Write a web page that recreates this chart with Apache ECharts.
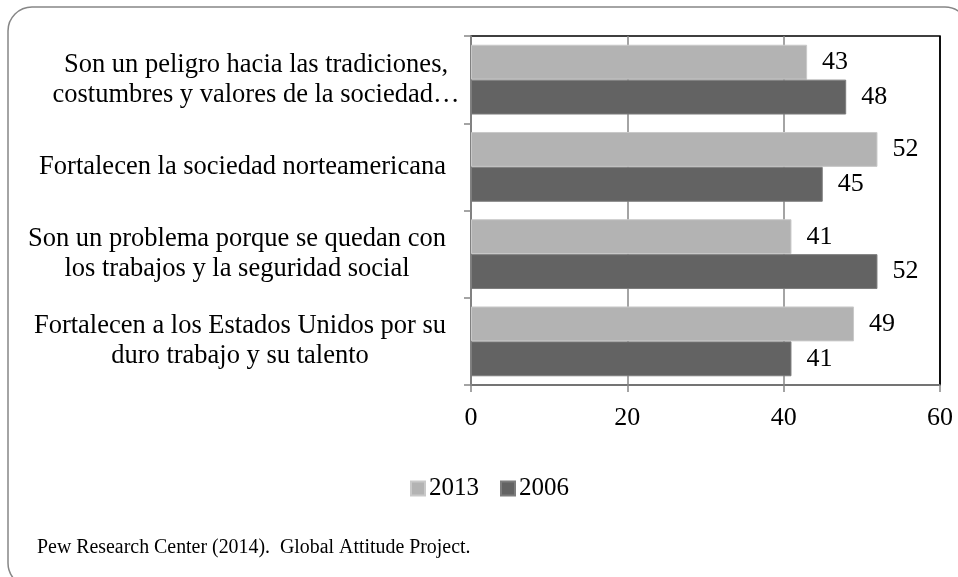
<!DOCTYPE html>
<html>
<head>
<meta charset="utf-8">
<script src="https://cdn.jsdelivr.net/npm/echarts@6/dist/echarts.min.js"></script>
<style>
  html, body { margin: 0; padding: 0; background: #fff; }
  #chart { width: 958px; height: 577px; }
</style>
</head>
<body>
<div id="chart"></div>
<script>
// Opinions about immigrants in the US, share of respondents (%)
const categories = [
  'Son un peligro hacia las tradiciones,\ncostumbres y valores de la sociedad…',
  'Fortalecen la sociedad norteamericana',
  'Son un problema porque se quedan con\nlos trabajos y la seguridad social',
  'Fortalecen a los Estados Unidos por su\nduro trabajo y su talento'
];
const seriesNames = ['2013', '2006'];
const values2013 = [43, 52, 41, 49];
const values2006 = [48, 45, 52, 41];
const xTicks = [0, 20, 40, 60];
const sourceNote = 'Pew Research Center (2014).  Global Attitude Project.';

const FONT = '"Liberation Serif", "Times New Roman", serif';
const LIGHT = '#b3b3b3';
const DARK = '#636363';
const AXIS_GREY = '#868686';
const FS = 26;
const CAT_FS = 26.5;

// each label block is centred on its own lines, right edge next to the axis
const labelBlockWidths = [382, 409, 420, 414];

const chart = echarts.init(document.getElementById('chart'), null, { renderer: 'canvas' });

chart.setOption({
  animation: false,
  backgroundColor: '#fff',
  textStyle: { fontFamily: FONT },
  grid: {
    left: 471, right: 18, top: 36, bottom: 192,
    show: true, borderColor: '#000', borderWidth: 1.5,
    backgroundColor: 'transparent',
    containLabel: false
  },
  legend: {
    data: seriesNames,
    left: 410, top: 476, padding: 0,
    itemWidth: 14, itemHeight: 14, itemGap: 21,
    icon: 'rect',
    textStyle: { fontFamily: FONT, fontSize: 25, color: '#000', padding: [0, 0, 0, -1] }
  },
  xAxis: {
    type: 'value',
    min: xTicks[0], max: xTicks[xTicks.length - 1], interval: xTicks[1] - xTicks[0],
    axisLine: { show: true, lineStyle: { color: AXIS_GREY, width: 1.5 } },
    axisTick: { show: true, length: 7, lineStyle: { color: AXIS_GREY, width: 1.5 } },
    axisLabel: { fontFamily: FONT, fontSize: FS, color: '#000', margin: 20 },
    splitLine: { show: true, lineStyle: { color: [AXIS_GREY, AXIS_GREY, AXIS_GREY, '#000'], width: 1.5 } }
  },
  yAxis: {
    type: 'category',
    data: categories,
    inverse: true,
    axisLine: { show: true, lineStyle: { color: AXIS_GREY, width: 1.5 } },
    axisTick: { show: true, length: 7, lineStyle: { color: AXIS_GREY, width: 1.5 } },
    axisLabel: {
      margin: 24,
      fontFamily: FONT, fontSize: CAT_FS, color: '#000', lineHeight: 30,
      formatter: function (value, idx) {
        return value.split('\n').map(function (line) {
          return '{c' + idx + '|' + line + '}';
        }).join('\n');
      },
      rich: labelBlockWidths.reduce(function (acc, w, i) {
        acc['c' + i] = { width: w, align: 'center', fontFamily: FONT, fontSize: CAT_FS, lineHeight: 30, color: '#000' };
        return acc;
      }, {})
    },
    splitLine: { show: false }
  },
  series: [
    {
      name: seriesNames[0], type: 'bar', data: values2013,
      barGap: '0%', barCategoryGap: '20%',
      itemStyle: { color: LIGHT, borderColor: '#c9c9c9', borderWidth: 1 },
      label: { show: true, position: 'right', distance: 15, fontFamily: FONT, fontSize: FS, color: '#000' }
    },
    {
      name: seriesNames[1], type: 'bar', data: values2006,
      barGap: '0%', barCategoryGap: '20%',
      itemStyle: { color: DARK, borderColor: '#7d7d7d', borderWidth: 1 },
      label: { show: true, position: 'right', distance: 15, fontFamily: FONT, fontSize: FS, color: '#000' }
    }
  ],
  graphic: [
    {
      type: 'rect', silent: true, z: 100,
      shape: { x: 8, y: 7, width: 961, height: 580, r: 24 },
      style: { fill: 'none', stroke: AXIS_GREY, lineWidth: 1.5 }
    },
    {
      type: 'text', silent: true,
      x: 37, y: 548, scaleX: 0.97, originX: 0,
      style: { text: sourceNote, fontFamily: FONT, fontSize: 20.5, fill: '#000', verticalAlign: 'middle', align: 'left' }
    }
  ]
});
</script>
</body>
</html>
